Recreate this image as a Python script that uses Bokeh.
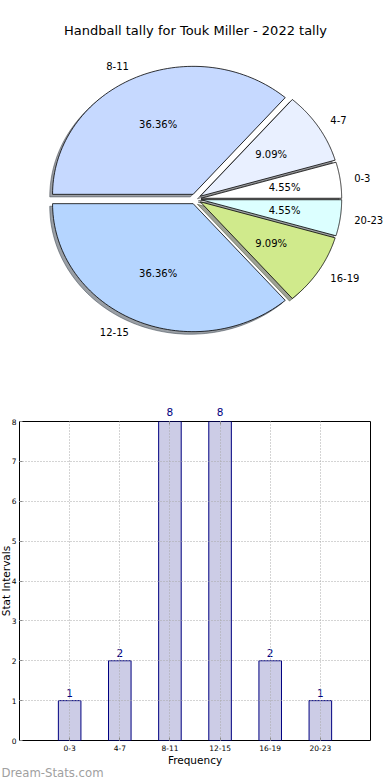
import numpy as np
from bokeh.plotting import figure
from bokeh.models import ColumnDataSource, Range1d, FixedTicker, LinearAxis, LabelSet, Title
from bokeh.embed import file_html
from bokeh.resources import INLINE
from bokeh.core.properties import value

# ---------------- data ----------------
title = "Handball tally for Touk Miller - 2022 tally"
categories = ["0-3", "4-7", "8-11", "12-15", "16-19", "20-23"]
counts = [1, 2, 8, 8, 2, 1]
pie_colors = ["#ffffff", "#e9f0ff", "#c6d9ff", "#b5d5ff", "#d0ea8c", "#dcffff"]
y_ticks = [0, 1, 2, 3, 4, 5, 6, 7, 8]
x_label = "Frequency"
y_label = "Stat Intervals"
watermark = "Dream-Stats.com"

FONT = "DejaVu Sans"

# ---------------- layout constants ----------------
W, H1, H2 = 390, 370, 410
BL, BR, BT, BB = 19, 20, 51, 40      # bar-chart frame borders
cx, cy = 195.0, 198.5                # pie centre in canvas pixels
rx, ry = 140.6, 128.0                # pie radius in pixels (elliptical axes)
explode = 0.04
shadow_off = -0.02
pct_dist, lab_dist = 0.6, 1.1

# ---------------- pie ----------------
pp = figure(width=W, height=H1, output_backend="svg", toolbar_location=None,
            x_range=Range1d(-cx / rx, (W - cx) / rx),
            y_range=Range1d(-(H1 - cy) / ry, cy / ry),
            x_axis_location=None, y_axis_location=None,
            min_border_left=0, min_border_right=0,
            min_border_top=0, min_border_bottom=0)
pp.xgrid.visible = False
pp.ygrid.visible = False
pp.outline_line_color = None
pp.background_fill_color = "white"

vals = np.array(counts, dtype=float)
total = vals.sum()
cum = np.concatenate([[0.0], np.cumsum(vals)]) / total * 2 * np.pi

xs, ys, sxs, sys_, mids = [], [], [], [], []
for i in range(len(vals)):
    t1, t2 = cum[i], cum[i + 1]
    tm = 0.5 * (t1 + t2)
    mids.append(tm)
    dx, dy = explode * np.cos(tm), explode * np.sin(tm)
    t = np.linspace(t1, t2, 80)
    px = np.concatenate([[dx], dx + np.cos(t)])
    py = np.concatenate([[dy], dy + np.sin(t)])
    xs.append(px)
    ys.append(py)
    sxs.append(px + shadow_off)
    sys_.append(py + shadow_off)

def darken(hexc, f=0.3):
    r, g, b = int(hexc[1:3], 16), int(hexc[3:5], 16), int(hexc[5:7], 16)
    return "#%02x%02x%02x" % (int(r * f), int(g * f), int(b * f))

shadow_cols = [darken(c) for c in pie_colors]
pp.patches(xs=sxs, ys=sys_, fill_color=shadow_cols, fill_alpha=0.5,
           line_color=shadow_cols, line_alpha=0.5, line_width=1)
pp.patches(xs=xs, ys=ys, fill_color=pie_colors, line_color="black", line_width=0.8)

mids = np.array(mids)
ex = explode * np.cos(mids)
ey = explode * np.sin(mids)
pct_src = ColumnDataSource(dict(
    x=ex + pct_dist * np.cos(mids), y=ey + pct_dist * np.sin(mids),
    t=["%.2f%%" % (100 * v / total) for v in vals]))
pp.text(x="x", y="y", text="t", source=pct_src, text_align="center",
        text_baseline="middle", text_font=value(FONT), text_font_size=value("10px"),
        text_color="black")
lab_src = ColumnDataSource(dict(
    x=ex + lab_dist * np.cos(mids), y=ey + lab_dist * np.sin(mids),
    t=categories, a=["left" if np.cos(m) > 0 else "right" for m in mids]))
pp.text(x="x", y="y", text="t", source=lab_src, text_align="a",
        text_baseline="middle", text_font=value(FONT), text_font_size=value("10px"),
        text_color="black")
pp.text(x=[0.0], y=[(cy - 30) / ry], text=[title], text_align="center",
        text_baseline="middle", text_font=value(FONT), text_font_size=value("13px"),
        text_color="black")

# ---------------- bars ----------------
xpos = list(range(len(categories)))
ymax = max(y_ticks)
pb = figure(width=W, height=H2, output_backend="svg", toolbar_location=None,
            x_range=Range1d(-1, len(categories)), y_range=Range1d(0, ymax),
            min_border_left=BL, min_border_right=BR, min_border_top=BT, min_border_bottom=BB)
pb.background_fill_color = "white"
pb.outline_line_color = "black"
pb.outline_line_width = 1

bsrc = ColumnDataSource(dict(x=xpos, top=counts))
pb.vbar(x="x", top="top", width=0.45, source=bsrc, fill_color="#000080", fill_alpha=0.2,
        line_color="#000080", line_width=1)

xax = pb.below[0]
yax = pb.left[0]
xax.ticker = FixedTicker(ticks=xpos)
xax.major_label_overrides = {i: c for i, c in enumerate(categories)}
xax.axis_label = x_label
yax.ticker = FixedTicker(ticks=y_ticks)
for ax in (xax, yax):
    ax.axis_line_color = None
    ax.major_tick_in = 3
    ax.major_tick_out = 0
    ax.major_tick_line_color = "#888888"
    ax.minor_tick_line_color = None
    ax.major_label_text_font = FONT
    ax.major_label_text_font_size = "7.5px"
    ax.major_label_text_color = "black"
    ax.axis_label_text_font = FONT
    ax.axis_label_text_font_size = "10.5px"
    ax.axis_label_text_font_style = "normal"
    ax.axis_label_text_color = "black"
xax.major_label_standoff = 4
xax.axis_label_standoff = 0
yax.major_label_standoff = 3

# y-axis title, placed just outside the tick labels
ytitle = Title(text=y_label, align="center", vertical_align="bottom", standoff=-6,
               text_font=FONT, text_font_size="10.5px", text_font_style="normal",
               text_color="black")
pb.add_layout(ytitle, "left")

for g in (pb.xgrid, pb.ygrid):
    g.grid_line_color = "#a8a8a8"
    g.grid_line_dash = "1 2"
    g.grid_line_width = 1
    g.level = "overlay"

# value labels: those inside the frame via LabelSet, those at the top via an upper axis
inside = [(x, c) for x, c in zip(xpos, counts) if c < ymax]
at_top = [(x, c) for x, c in zip(xpos, counts) if c >= ymax]
lsrc = ColumnDataSource(dict(x=[a for a, _ in inside], top=[b for _, b in inside],
                             lab=[str(b) for _, b in inside]))
pb.add_layout(LabelSet(x="x", y="top", text="lab", source=lsrc, y_offset=4,
                       text_align="center", text_baseline="alphabetic",
                       text_font=value(FONT), text_font_size="10.5px", text_color="#000080"))

top_ax = LinearAxis(ticker=FixedTicker(ticks=[a for a, _ in at_top]),
                    major_label_overrides={a: str(b) for a, b in at_top},
                    axis_line_color=None, major_tick_in=3, major_tick_out=0,
                    major_tick_line_color="#888888", minor_tick_line_color=None,
                    major_label_text_font=FONT, major_label_text_font_size="10.5px",
                    major_label_text_color="#000080", major_label_standoff=6)
pb.add_layout(top_ax, "above")

wm = Title(text=watermark, align="left", offset=-18, standoff=-10,
           text_font=FONT, text_font_size="11.7px", text_font_style="normal",
           text_color="#a0a0a0")
pb.add_layout(wm, "below")

open("out.html", "w").write(file_html([pp, pb], INLINE))
